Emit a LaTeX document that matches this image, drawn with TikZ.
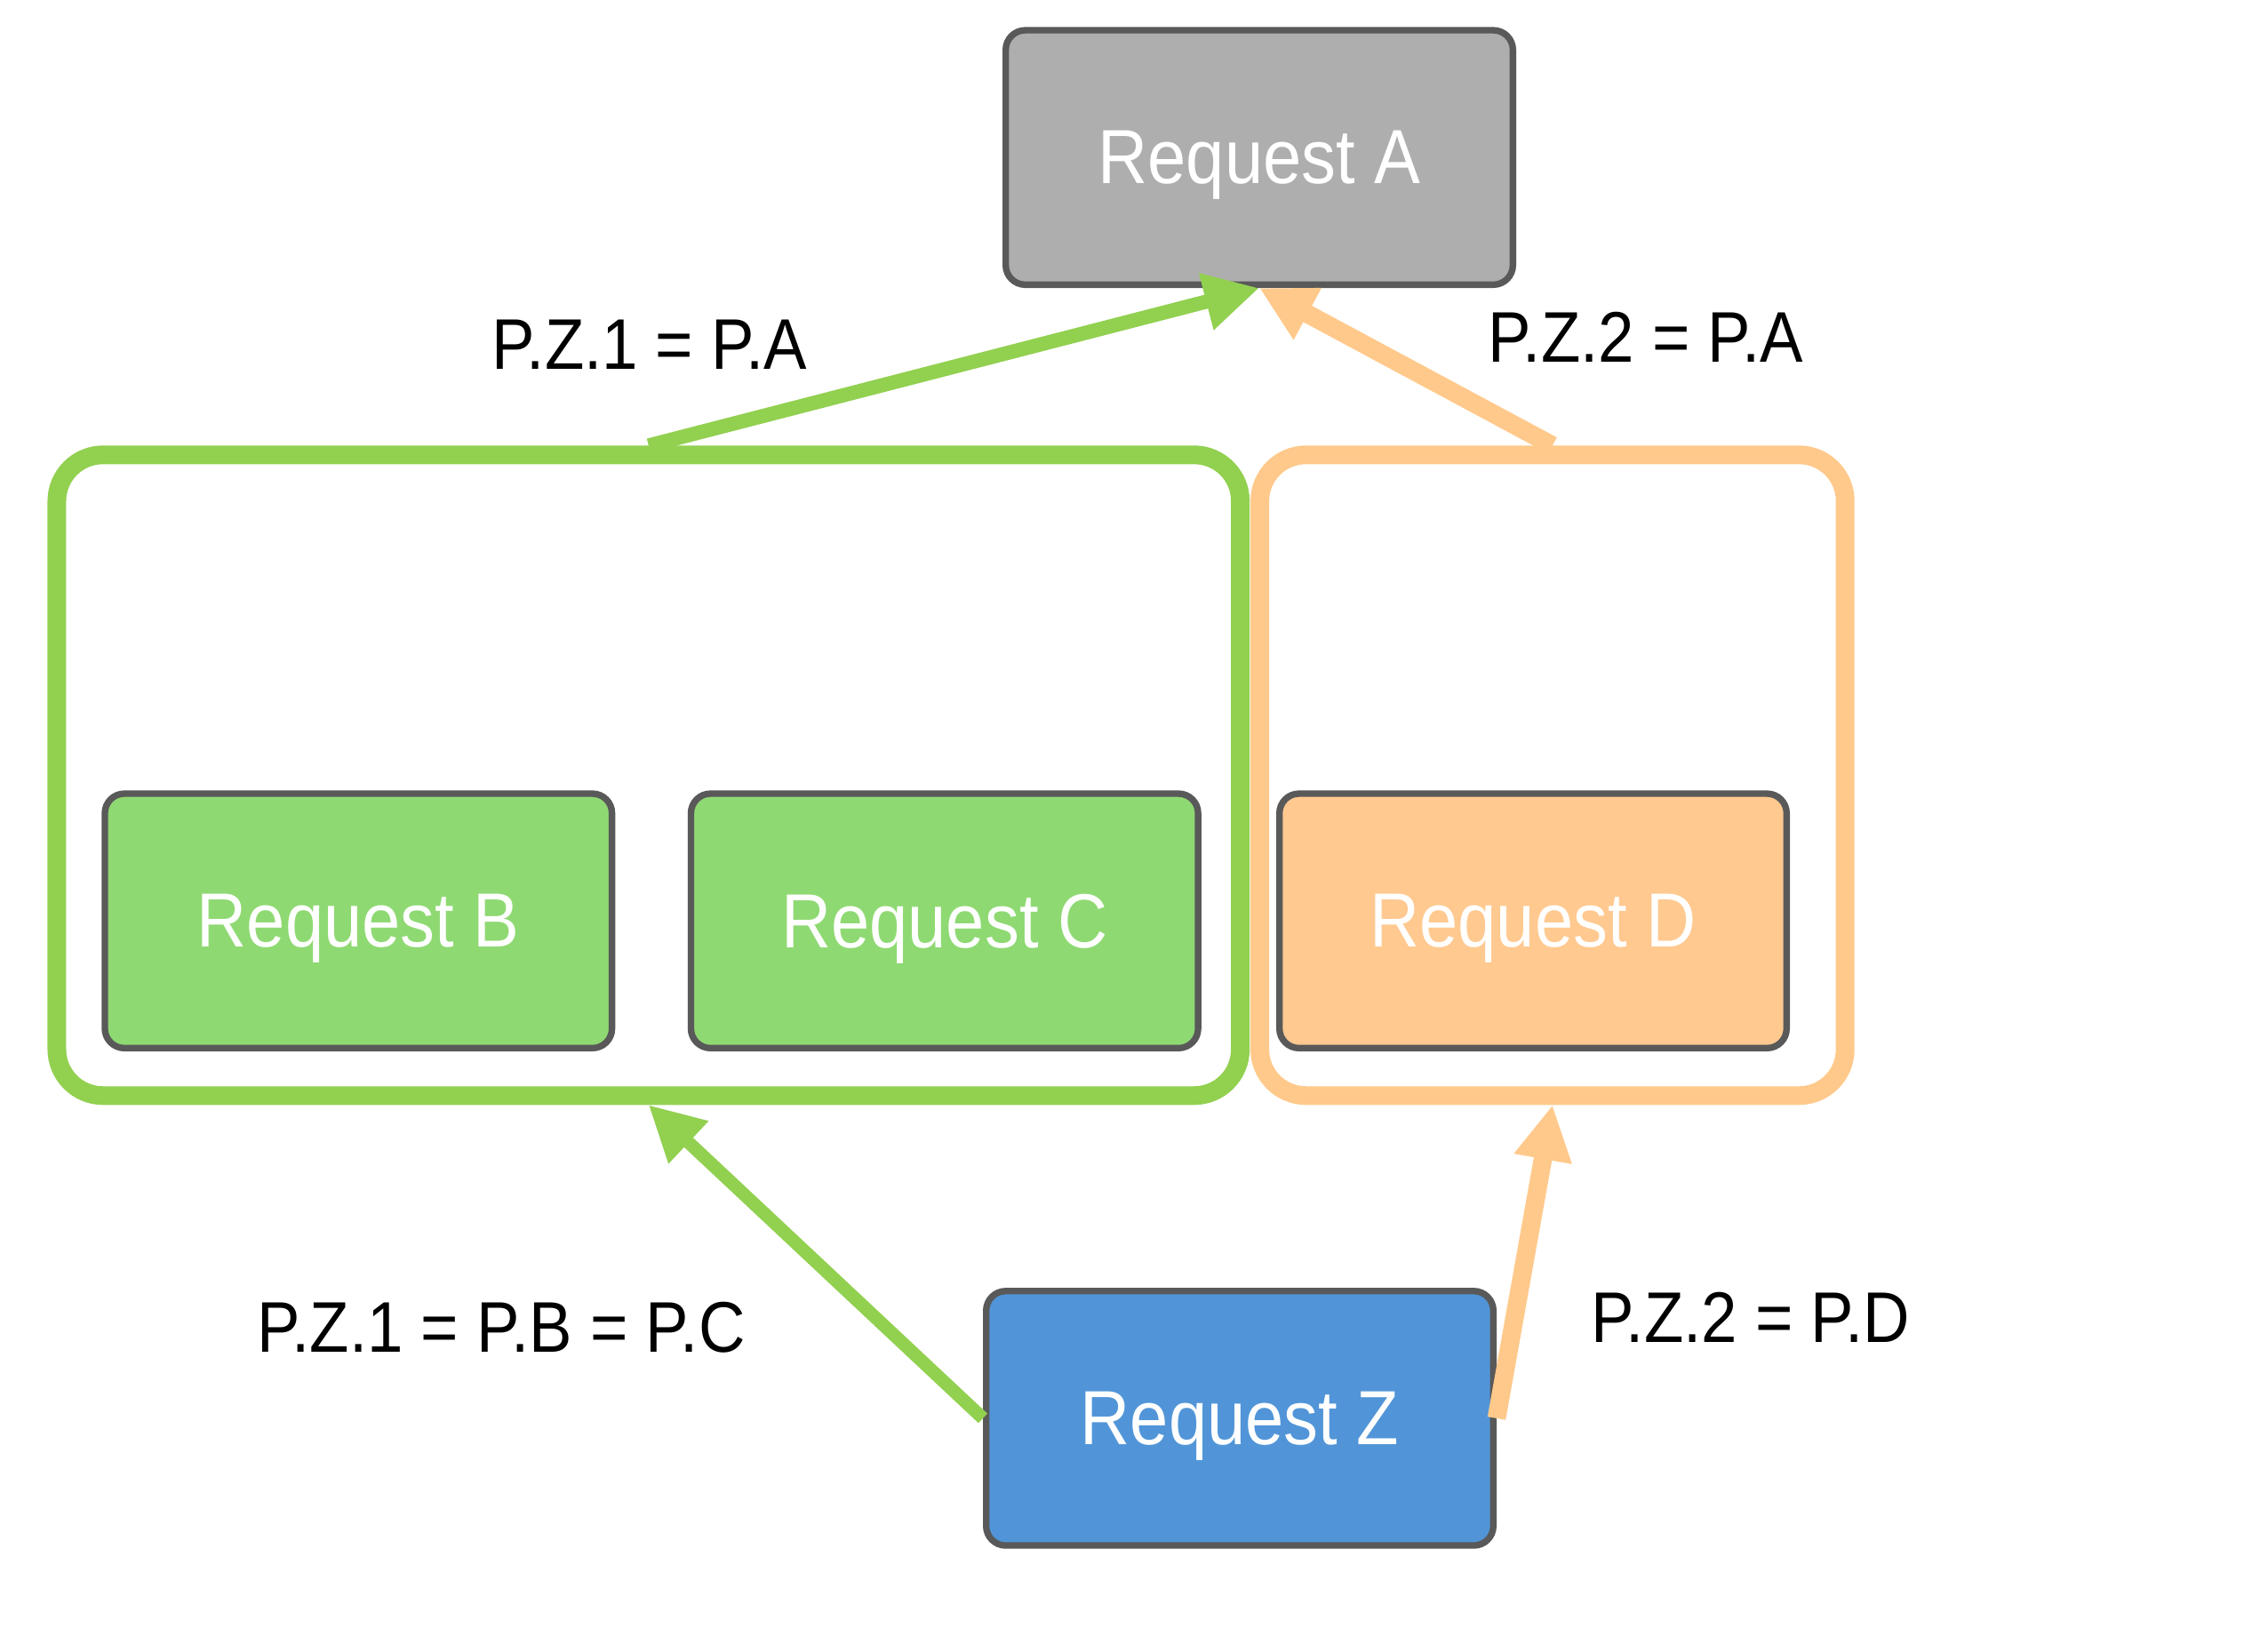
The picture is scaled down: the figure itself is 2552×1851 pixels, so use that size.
\documentclass[tikz,border=0pt]{standalone}
\usepackage{fontspec}
\setmainfont[FakeStretch=0.9]{Liberation Sans}
\usetikzlibrary{arrows.meta}

\definecolor{edgegray}{HTML}{595959}
\definecolor{fillgray}{HTML}{AEAEAE}
\definecolor{linegreen}{HTML}{92D050}
\definecolor{fillgreen}{HTML}{8FD973}
\definecolor{lineorange}{HTML}{FFC98B}
\definecolor{fillorange}{HTML}{FFC990}
\definecolor{fillblue}{HTML}{5195D8}

\tikzset{
  request/.style={draw=edgegray, line width=2.2pt, rounded corners=6.6pt, inner sep=0pt,
    minimum width=171.2pt, minimum height=85.9pt, text depth=0pt, text=white,
    font=\fontsize{25.9}{30}\selectfont},
  group/.style={draw, line width=6.3pt, rounded corners=15.6pt, inner sep=0pt, minimum height=216.3pt},
  link/.style={line width=4.8pt, -{Triangle[length=18.5pt,width=18.5pt]}},
  rule/.style={text depth=0pt, font=\fontsize{24.2}{29}\selectfont}
}

\begin{document}
\begin{tikzpicture}[x=0.3pt, y=-0.3pt]
            \useasboundingbox (0, 0) rectangle (2552, 1851);
            \node[group, draw=linegreen, minimum width=399.5pt] (grpBC) at (729.8, 872.3) {};
            \node[group, draw=lineorange, minimum width=197.6pt] (grpD) at (1746.9, 872.3) {};
            \node[request, fill=fillgray] (reqA) at (1417, 177.2) {Request A};
            \node[request, fill=fillgreen] (reqB) at (403.3, 1036.2) {Request B};
            \node[request, fill=fillgreen] (reqC) at (1062.8, 1036.2) {Request C};
            \node[request, fill=fillorange] (reqD) at (1725, 1036.2) {Request D};
            \node[request, fill=fillblue] (reqZ) at (1395, 1595.9) {Request Z};
            \node[rule] (ruleBCA) at (731, 388) {P.Z.1 = P.A};
            \node[rule] (ruleDA) at (1852, 379) {P.Z.2 = P.A};
            \node[rule] (ruleZBC) at (564, 1493) {P.Z.1 = P.B = P.C};
            \node[rule] (ruleZD) at (1970, 1482) {P.Z.2 = P.D};
            \draw[link, color=linegreen] (grpBC.north) -- (reqA.south);
            \draw[link, line width=6.2pt, color=lineorange] (grpD.north) -- (reqA.south);
            \draw[link, line width=4.4pt, color=linegreen] (reqZ.west) -- (grpBC.south);
            \draw[link, line width=6.2pt, color=lineorange] (reqZ.east) -- (grpD.south);
        \end{tikzpicture}
\end{document}
